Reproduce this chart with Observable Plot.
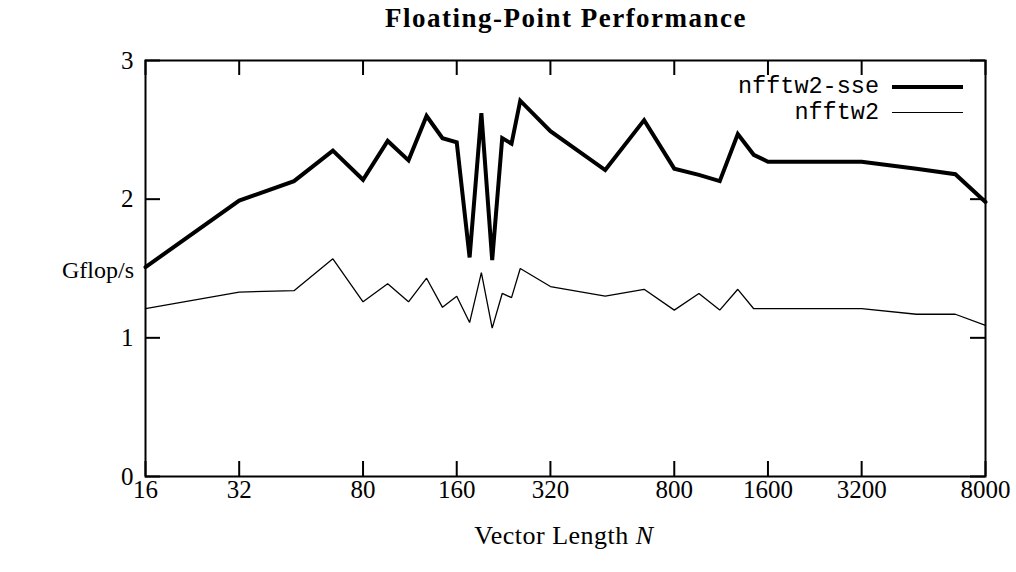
<!DOCTYPE html>
<html>
<head>
<meta charset="utf-8">
<script src="https://cdn.jsdelivr.net/npm/d3@7"></script>
<script src="https://cdn.jsdelivr.net/npm/@observablehq/plot@0.6"></script>
<style>
  html, body { margin: 0; padding: 0; background: #fff; }
  #wrap { position: relative; width: 1016px; height: 572px; overflow: hidden; }
  .lbl { position: absolute; font-family: "Liberation Serif", serif; color: #000; white-space: nowrap; }
  .leg { position: absolute; font-family: "Liberation Mono", monospace; font-size: 23.5px; color: #000; white-space: nowrap; text-align: right; }
  .sw { position: absolute; background: #000; }
</style>
</head>
<body>
<div id="wrap"></div>
<script>
// Data
const vectorLength = [16, 32, 48, 64, 80, 96, 112, 128, 144, 160, 176, 192, 208, 224, 240, 256, 320, 480, 640, 800, 960, 1120, 1280, 1440, 1600, 3200, 4800, 6400, 8000];
const nfftw2sse = [1.51, 1.99, 2.13, 2.35, 2.14, 2.42, 2.28, 2.60, 2.44, 2.41, 1.58, 2.62, 1.56, 2.44, 2.40, 2.71, 2.49, 2.21, 2.57, 2.22, 2.175, 2.13, 2.47, 2.32, 2.27, 2.27, 2.22, 2.18, 1.98];
const nfftw2 = [1.21, 1.33, 1.34, 1.57, 1.26, 1.39, 1.26, 1.43, 1.22, 1.30, 1.11, 1.47, 1.07, 1.32, 1.29, 1.50, 1.37, 1.30, 1.35, 1.20, 1.32, 1.20, 1.35, 1.21, 1.21, 1.21, 1.17, 1.17, 1.09];
const xTicks = [16, 32, 80, 160, 320, 800, 1600, 3200, 8000];
const yTicks = [0, 1, 2, 3];
const seriesNames = ["nfftw2-sse", "nfftw2"];

const W = 1016, H = 572;
const mL = 145, mR = 31, mT = 60, mB = 96;
const plotW = W - mL - mR, plotH = H - mT - mB;
const tickLen = 15;

const sseData = vectorLength.map((n, i) => ({n, v: nfftw2sse[i]}));
const plainData = vectorLength.map((n, i) => ({n, v: nfftw2[i]}));
const xTickData = xTicks.map(t => ({t, label: String(t)}));
const yTickData = yTicks.map(t => ({t, label: String(t)}));

const chart = Plot.plot({
  width: W,
  height: H,
  marginLeft: mL,
  marginRight: mR,
  marginTop: mT,
  marginBottom: mB,
  style: {fontFamily: "Liberation Serif, serif", fontSize: "25px", color: "#000", background: "#fff"},
  x: {type: "log", domain: [16, 8000], axis: null},
  y: {domain: [0, 3], axis: null},
  marks: [
    // tick labels
    Plot.text(xTickData, {x: "t", text: "label", frameAnchor: "bottom", lineAnchor: "top", dy: 4, fontSize: 25, fill: "#000"}),
    Plot.text(yTickData, {y: "t", text: "label", frameAnchor: "left", textAnchor: "end", dx: -12, fontSize: 25, fill: "#000"}),
    // inward ticks on all four sides
    Plot.ruleX(xTickData, {x: "t", insetTop: plotH - tickLen, stroke: "#000", strokeWidth: 2}),
    Plot.ruleX(xTickData, {x: "t", insetBottom: plotH - tickLen, stroke: "#000", strokeWidth: 2}),
    Plot.ruleY(yTickData, {y: "t", insetRight: plotW - tickLen, stroke: "#000", strokeWidth: 2}),
    Plot.ruleY(yTickData, {y: "t", insetLeft: plotW - tickLen, stroke: "#000", strokeWidth: 2}),
    Plot.line(plainData, {x: "n", y: "v", stroke: "#000", strokeWidth: 1.3, strokeLinejoin: "miter"}),
    Plot.line(sseData, {x: "n", y: "v", stroke: "#000", strokeWidth: 4, strokeLinejoin: "miter", strokeMiterlimit: 4}),
    Plot.frame({stroke: "#000", strokeWidth: 2})
  ]
});

const wrap = document.getElementById("wrap");
wrap.appendChild(chart);
chart.style.position = "absolute";
chart.style.left = "0px";
chart.style.top = "0px";

function addLabel(html, css, cls) {
  const d = document.createElement("div");
  d.className = cls || "lbl";
  d.innerHTML = html;
  Object.assign(d.style, css);
  wrap.appendChild(d);
  return d;
}

// Title
addLabel("Floating-Point Performance", {left: "0px", width: "1132px", top: "3px", textAlign: "center", fontWeight: "bold", fontSize: "27px", letterSpacing: "1.5px"});
// Y label
addLabel("Gflop/s", {left: "62px", top: "257px", fontSize: "24px"});
// X label
addLabel("Vector Length <i>N</i>", {left: "0px", width: "1128px", top: "521px", textAlign: "center", fontSize: "26px", letterSpacing: "0.5px"});

// Legend
addLabel(seriesNames[0], {right: (W - 879) + "px", top: "73px"}, "leg");
addLabel(seriesNames[1], {right: (W - 879) + "px", top: "99px"}, "leg");
const sw1 = document.createElement("div"); sw1.className = "sw";
Object.assign(sw1.style, {left: "892px", width: "71px", top: "85px", height: "4px"});
wrap.appendChild(sw1);
const sw2 = document.createElement("div"); sw2.className = "sw";
Object.assign(sw2.style, {left: "892px", width: "71px", top: "112px", height: "1.3px"});
wrap.appendChild(sw2);
</script>
</body>
</html>
